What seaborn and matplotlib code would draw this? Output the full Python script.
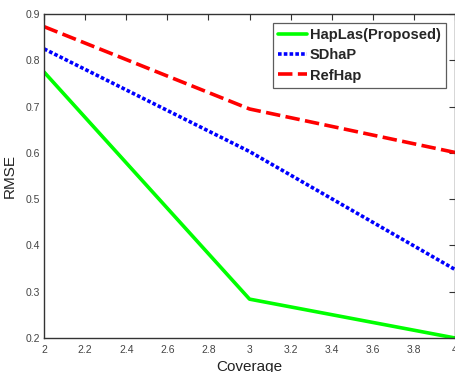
import matplotlib
matplotlib.use("Agg")
import matplotlib.pyplot as plt
import seaborn as sns
import pandas as pd

coverage = [2, 3, 4]
haplas = [0.775, 0.284, 0.200]
sdhap = [0.825, 0.603, 0.348]
refhap = [0.873, 0.695, 0.601]
labels = ["HapLas(Proposed)", "SDhaP", "RefHap"]

sns.set_style("white")
plt.rcParams['font.family'] = ['Liberation Sans', 'DejaVu Sans']

fig = plt.figure(figsize=(4.56, 3.72), dpi=100)
ax = fig.add_axes([0.0965, 0.0914, 0.9015, 0.8706])

series = [haplas, sdhap, refhap]
colors = ["#00ff00", "#0000ff", "#ff0000"]
styles = ["-", (0, (1, 0.6)), (0, (4, 1.5))]
for vals, lab, c, ls in zip(series, labels, colors, styles):
    df = pd.DataFrame({"Coverage": coverage, "RMSE": vals})
    sns.lineplot(data=df, x="Coverage", y="RMSE", ax=ax, color=c, lw=2.6,
                 linestyle=ls, label=lab)

ax.set_xlim(2, 4)
ax.set_ylim(0.2, 0.9)
ax.set_xticks([2, 2.2, 2.4, 2.6, 2.8, 3, 3.2, 3.4, 3.6, 3.8, 4])
ax.set_xticklabels(["2", "2.2", "2.4", "2.6", "2.8", "3", "3.2", "3.4", "3.6", "3.8", "4"])
ax.set_yticks([0.2, 0.3, 0.4, 0.5, 0.6, 0.7, 0.8, 0.9])
ax.set_yticklabels(["0.2", "0.3", "0.4", "0.5", "0.6", "0.7", "0.8", "0.9"])
ax.tick_params(direction="in", length=4, width=0.8, labelsize=7.5, colors="#333333",
               labelcolor="#444444", top=True, right=True, pad=3)
ax.tick_params(axis="x", pad=5)
for s in ax.spines.values():
    s.set_color("#333333")
    s.set_linewidth(1.0)
ax.set_xlabel("Coverage", fontsize=11, color="#222222", labelpad=4)
ax.set_ylabel("RMSE", fontsize=11, color="#222222", labelpad=6)

leg = ax.legend(loc="upper right", fontsize=10.5, frameon=True, fancybox=False,
                edgecolor="#333333", handlelength=2.0, handletextpad=0.2,
                labelspacing=0.42, borderpad=0.35, borderaxespad=0,
                bbox_to_anchor=(0.978, 0.972))
leg.get_frame().set_linewidth(0.9)
for t in leg.get_texts():
    t.set_fontweight("bold")

fig.savefig("out.png", dpi=100)
